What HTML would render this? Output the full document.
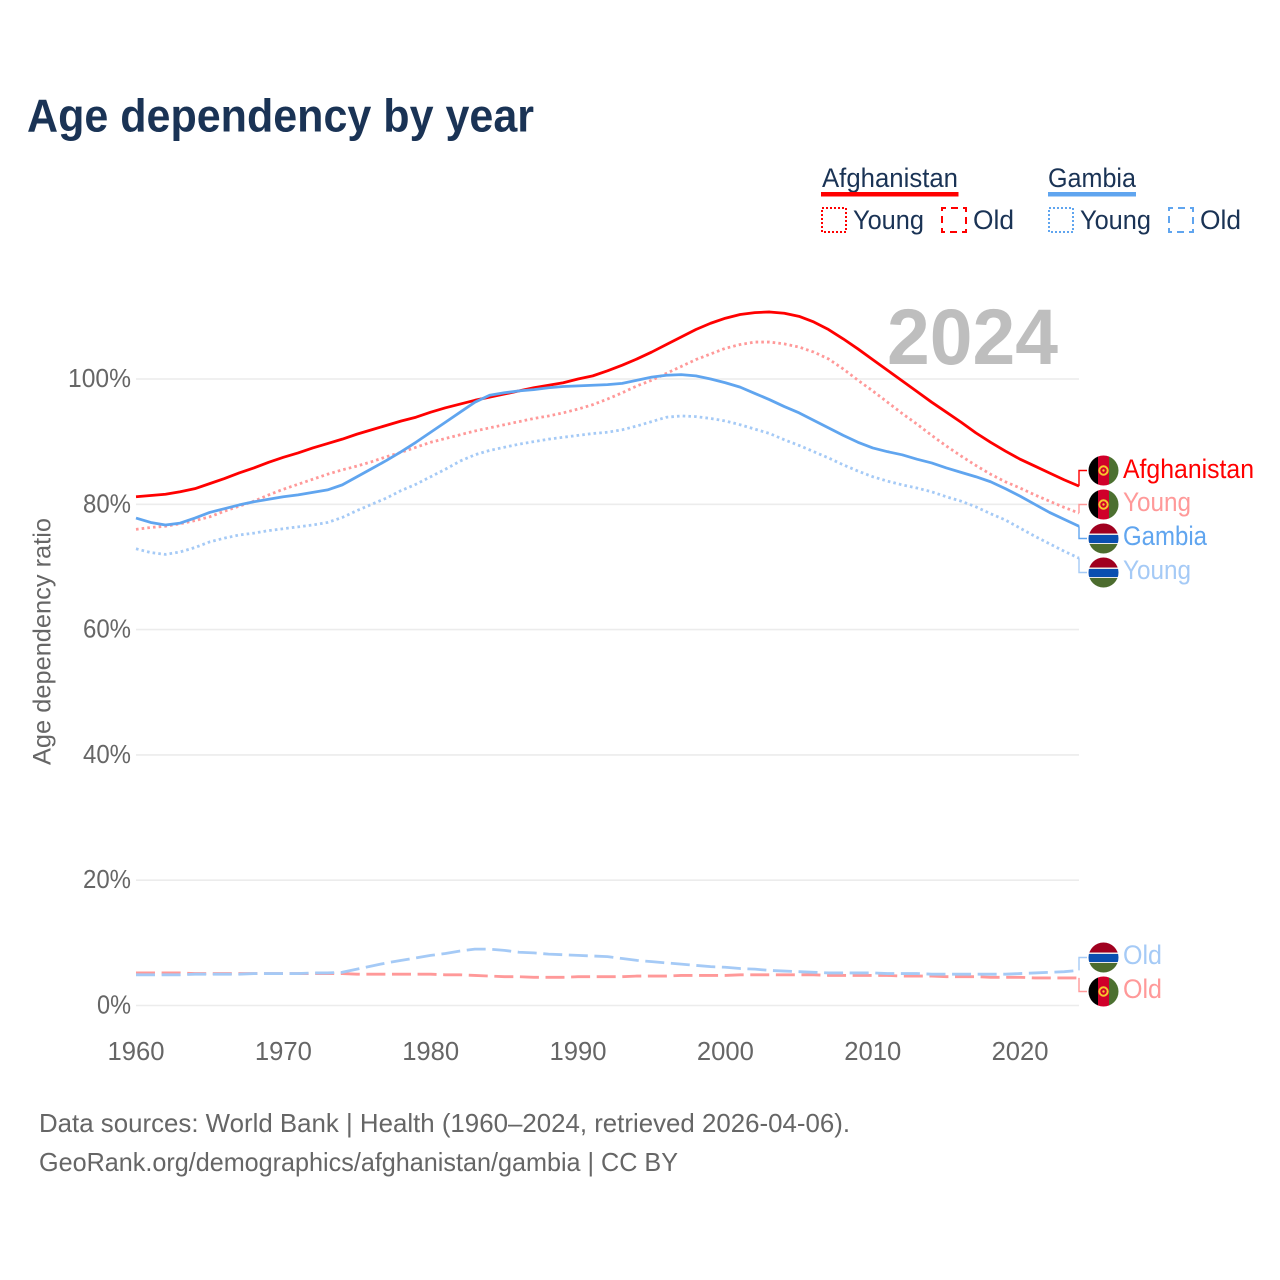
<!DOCTYPE html>
<html lang="en">
<head>
<meta charset="utf-8">
<title>Age dependency by year</title>
<style>
html,body{margin:0;padding:0;background:#fff;}
svg{display:block;}
text{font-family:"Liberation Sans",sans-serif;}
</style>
</head>
<body>
<svg id="chart" xmlns="http://www.w3.org/2000/svg" width="1280" height="1280" viewBox="0 0 1280 1280">
<defs>
<clipPath id="flag-clip"><circle cx="0" cy="0" r="15"/></clipPath>
<g id="flag-af" clip-path="url(#flag-clip)">
<rect x="-15" y="-15" width="9.5" height="30" fill="#000"/>
<rect x="-5.5" y="-15" width="11" height="30" fill="#d0002a"/>
<rect x="5.5" y="-15" width="9.5" height="30" fill="#4c7030"/>
<circle r="4.2" fill="none" stroke="#f7c52e" stroke-width="2"/>
<circle r="1.2" fill="#f7c52e"/>
</g>
<g id="flag-gm" clip-path="url(#flag-clip)">
<rect x="-15" y="-15" width="30" height="10" fill="#a0001f"/>
<rect x="-15" y="-5" width="30" height="10.5" fill="#e8e8e8"/>
<rect x="-15" y="-3.5" width="30" height="8" fill="#0a4fb0"/>
<rect x="-15" y="5.5" width="30" height="10" fill="#4c6c2e"/>
</g>
</defs>

<text x="27" y="131.5" font-size="46" font-weight="700" fill="#1a3355" textLength="507" lengthAdjust="spacingAndGlyphs">Age dependency by year</text>

<g fill="#1a3355" font-size="27">
<text x="822" y="187" textLength="136" lengthAdjust="spacingAndGlyphs">Afghanistan</text>
<rect x="821" y="192" width="137.5" height="4.5" fill="#ff0000"/>
<rect x="822" y="208" width="24" height="24" fill="none" stroke="#ff0000" stroke-width="2" stroke-dasharray="2 2"/>
<text x="853" y="229" textLength="71" lengthAdjust="spacingAndGlyphs">Young</text>
<rect x="942" y="208" width="24" height="24" fill="none" stroke="#ff0000" stroke-width="2" stroke-dasharray="7 5" stroke-dashoffset="3"/>
<text x="973" y="229" textLength="41" lengthAdjust="spacingAndGlyphs">Old</text>
<text x="1048" y="187" textLength="88" lengthAdjust="spacingAndGlyphs">Gambia</text>
<rect x="1048" y="192" width="88" height="4.5" fill="#60a5ef"/>
<rect x="1049" y="208" width="24" height="24" fill="none" stroke="#60a5ef" stroke-width="2" stroke-dasharray="2 2"/>
<text x="1080" y="229" textLength="71" lengthAdjust="spacingAndGlyphs">Young</text>
<rect x="1169" y="208" width="24" height="24" fill="none" stroke="#60a5ef" stroke-width="2" stroke-dasharray="7 5" stroke-dashoffset="3"/>
<text x="1200" y="229" textLength="41" lengthAdjust="spacingAndGlyphs">Old</text>
</g>

<text transform="translate(50.5,765) rotate(-90)" font-size="25" fill="#666" textLength="247" lengthAdjust="spacingAndGlyphs">Age dependency ratio</text>

<g id="grid"></g>
<g id="yticks"></g>
<g id="xticks"></g>

<text x="887" y="364" font-size="79" font-weight="700" fill="#bebebe" textLength="171" lengthAdjust="spacingAndGlyphs">2024</text>

<g id="series"></g>
<g id="connectors"></g>

<g font-size="27">
<use href="#flag-af" x="1103.5" y="470.5"/>
<text x="1123" y="478" fill="#ff0000" textLength="131" lengthAdjust="spacingAndGlyphs">Afghanistan</text>
<use href="#flag-af" x="1103.5" y="504.5"/>
<text x="1123" y="511" fill="#ff9999" textLength="68" lengthAdjust="spacingAndGlyphs">Young</text>
<use href="#flag-gm" x="1103.5" y="538.5"/>
<text x="1123" y="545" fill="#60a5ef" textLength="84" lengthAdjust="spacingAndGlyphs">Gambia</text>
<use href="#flag-gm" x="1103.5" y="572.5"/>
<text x="1123" y="579" fill="#a5caf6" textLength="68" lengthAdjust="spacingAndGlyphs">Young</text>
<use href="#flag-gm" x="1103.5" y="957.5"/>
<text x="1123" y="964" fill="#a5caf6" textLength="39" lengthAdjust="spacingAndGlyphs">Old</text>
<use href="#flag-af" x="1103.5" y="991.5"/>
<text x="1123" y="998" fill="#ff9999" textLength="39" lengthAdjust="spacingAndGlyphs">Old</text>
</g>

<text x="39" y="1132" font-size="26" fill="#666" textLength="811" lengthAdjust="spacingAndGlyphs">Data sources: World Bank | Health (1960–2024, retrieved 2026-04-06).</text>
<text x="39" y="1171" font-size="26" fill="#666" textLength="639" lengthAdjust="spacingAndGlyphs">GeoRank.org/demographics/afghanistan/gambia | CC BY</text>
</svg>

<script>
var startYear = 1960;
var xTickLabels = [1960, 1970, 1980, 1990, 2000, 2010, 2020];
var yTickLabels = [0, 20, 40, 60, 80, 100];

var afghanistanTotal = [
81.2,81.4,81.6,82.0,82.5,83.3,84.1,85.0,85.8,86.7,
87.5,88.2,89.0,89.7,90.4,91.2,91.9,92.6,93.3,93.9,
94.7,95.4,96.0,96.6,97.1,97.6,98.1,98.6,99.0,99.4,
100.0,100.5,101.3,102.2,103.2,104.3,105.5,106.7,107.9,108.9,
109.7,110.3,110.6,110.7,110.5,110.0,109.1,107.9,106.4,104.8,
103.1,101.4,99.7,98.0,96.3,94.7,93.1,91.4,89.9,88.5,
87.2,86.1,85.0,83.9,82.9];
var afghanistanYoung = [
76.0,76.3,76.5,76.9,77.4,78.0,78.9,79.7,80.5,81.5,
82.4,83.2,84.0,84.8,85.5,86.1,86.8,87.6,88.3,89.1,
89.9,90.5,91.1,91.7,92.2,92.7,93.2,93.7,94.1,94.6,
95.2,95.9,96.8,97.8,98.9,99.8,100.9,102.0,103.1,104.0,
104.9,105.5,105.9,105.9,105.6,105.1,104.3,103.2,101.6,99.8,
98.1,96.3,94.5,92.8,91.0,89.3,87.7,86.2,84.8,83.6,
82.6,81.5,80.5,79.5,78.6];
var afghanistanOld = [
5.2,5.2,5.2,5.2,5.1,5.1,5.1,5.1,5.1,5.1,
5.1,5.1,5.1,5.1,5.1,5.0,5.0,5.0,5.0,5.0,
5.0,4.9,4.9,4.8,4.7,4.6,4.6,4.5,4.5,4.5,
4.6,4.6,4.6,4.6,4.7,4.7,4.7,4.8,4.8,4.8,
4.8,4.9,4.9,4.9,4.9,4.9,4.9,4.8,4.8,4.8,
4.8,4.8,4.7,4.7,4.7,4.6,4.6,4.6,4.5,4.5,
4.5,4.4,4.4,4.4,4.4];
var gambiaTotal = [
77.8,77.1,76.7,77.0,77.8,78.7,79.3,79.9,80.4,80.8,
81.2,81.5,81.9,82.3,83.1,84.4,85.7,87.0,88.4,89.9,
91.5,93.1,94.7,96.3,97.4,97.8,98.1,98.3,98.6,98.8,
98.9,99.0,99.1,99.3,99.8,100.3,100.6,100.7,100.5,100.0,
99.4,98.7,97.7,96.7,95.6,94.6,93.4,92.2,91.0,89.9,
89.0,88.4,87.9,87.2,86.6,85.8,85.1,84.4,83.6,82.5,
81.3,80.0,78.7,77.6,76.5];
var gambiaYoung = [
72.9,72.3,72.0,72.4,73.1,74.0,74.6,75.1,75.4,75.8,
76.1,76.4,76.7,77.1,77.9,79.0,80.0,81.0,82.2,83.2,
84.4,85.6,86.9,87.9,88.6,89.1,89.6,90.0,90.4,90.7,
91.0,91.3,91.5,91.9,92.5,93.2,93.9,94.1,94.0,93.7,
93.3,92.7,92.0,91.3,90.3,89.4,88.4,87.4,86.3,85.3,
84.4,83.7,83.1,82.6,82.0,81.2,80.5,79.6,78.5,77.5,
76.2,74.9,73.7,72.5,71.4];
var gambiaOld = [
4.9,4.9,4.9,4.9,5.0,5.0,5.0,5.0,5.1,5.1,
5.1,5.1,5.2,5.2,5.3,5.8,6.3,6.8,7.2,7.6,
8.0,8.3,8.7,9.0,9.0,8.8,8.5,8.4,8.2,8.1,
8.0,7.9,7.8,7.5,7.2,7.0,6.8,6.6,6.4,6.2,
6.1,5.9,5.8,5.6,5.5,5.4,5.3,5.2,5.2,5.2,
5.2,5.1,5.1,5.1,5.0,5.0,5.0,5.0,5.0,5.0,
5.1,5.2,5.3,5.4,5.6];

var plotLeft = 136;
var plotRight = 1079;
var SVGNS = 'http://www.w3.org/2000/svg';

function xScale(year) {
  return plotLeft + (year - 1960) * (plotRight - plotLeft) / 64;
}
function yScale(pct) {
  return 1005.5 - pct * 6.265;
}
function makeEl(tag, parentId) {
  var el = document.createElementNS(SVGNS, tag);
  document.getElementById(parentId).appendChild(el);
  return el;
}

yTickLabels.forEach(function (t) {
  var line = makeEl('line', 'grid');
  
  
  line.setAttribute('x1', plotLeft);
  line.setAttribute('x2', plotRight);
  line.setAttribute('y1', yScale(t));
  line.setAttribute('y2', yScale(t));
  line.setAttribute('stroke', '#ececec');
  line.setAttribute('stroke-width', '1.6');
  var label = makeEl('text', 'yticks');
  
  
  label.setAttribute('x', 131);
  label.setAttribute('y', yScale(t) + 8);
  label.setAttribute('text-anchor', 'end');
  label.setAttribute('font-size', '26');
  label.setAttribute('fill', '#666');
  label.setAttribute('textLength', t === 100 ? 63 : (t === 0 ? 34 : 48));
  label.setAttribute('lengthAdjust', 'spacingAndGlyphs');
  label.textContent = t + '%';
});

xTickLabels.forEach(function (t) {
  var label = makeEl('text', 'xticks');
  
  
  label.setAttribute('x', xScale(t));
  label.setAttribute('y', 1060);
  label.setAttribute('text-anchor', 'middle');
  label.setAttribute('font-size', '26');
  label.setAttribute('fill', '#666');
  label.setAttribute('textLength', 57);
  label.setAttribute('lengthAdjust', 'spacingAndGlyphs');
  label.textContent = t;
});

function drawSeries(values, color, dash, name, labelY) {
  var pts = values.map(function (v, i) {
    return xScale(startYear + i).toFixed(2) + ',' + yScale(v).toFixed(2);
  }).join(' ');
  var line = makeEl('polyline', 'series');
  
  
  line.setAttribute('points', pts);
  line.setAttribute('fill', 'none');
  line.setAttribute('stroke', color);
  line.setAttribute('stroke-width', '2.8');
  line.setAttribute('stroke-linejoin', 'round');
  if (dash) line.setAttribute('stroke-dasharray', dash);
  var endY = yScale(values[values.length - 1]);
  var conn = makeEl('polyline', 'connectors');
  
  
  conn.setAttribute('points', plotRight + ',' + endY.toFixed(2) + ' ' + plotRight + ',' + labelY + ' 1087,' + labelY);
  conn.setAttribute('fill', 'none');
  conn.setAttribute('stroke', color);
  conn.setAttribute('stroke-width', '1.4');
}

var dotted = '2.6 3.1';
var dashed = '19 6.6';
drawSeries(afghanistanYoung, '#ff9999', dotted, 'afghanistan-young-line', 504.5);
drawSeries(afghanistanOld, '#ff9999', dashed, 'afghanistan-old-line', 991.5);
drawSeries(gambiaYoung, '#a5caf6', dotted, 'gambia-young-line', 572.5);
drawSeries(gambiaOld, '#a5caf6', dashed, 'gambia-old-line', 957.5);
drawSeries(afghanistanTotal, '#ff0000', null, 'afghanistan-total-line', 470.5);
drawSeries(gambiaTotal, '#60a5ef', null, 'gambia-total-line', 538.5);
</script>
</body>
</html>
